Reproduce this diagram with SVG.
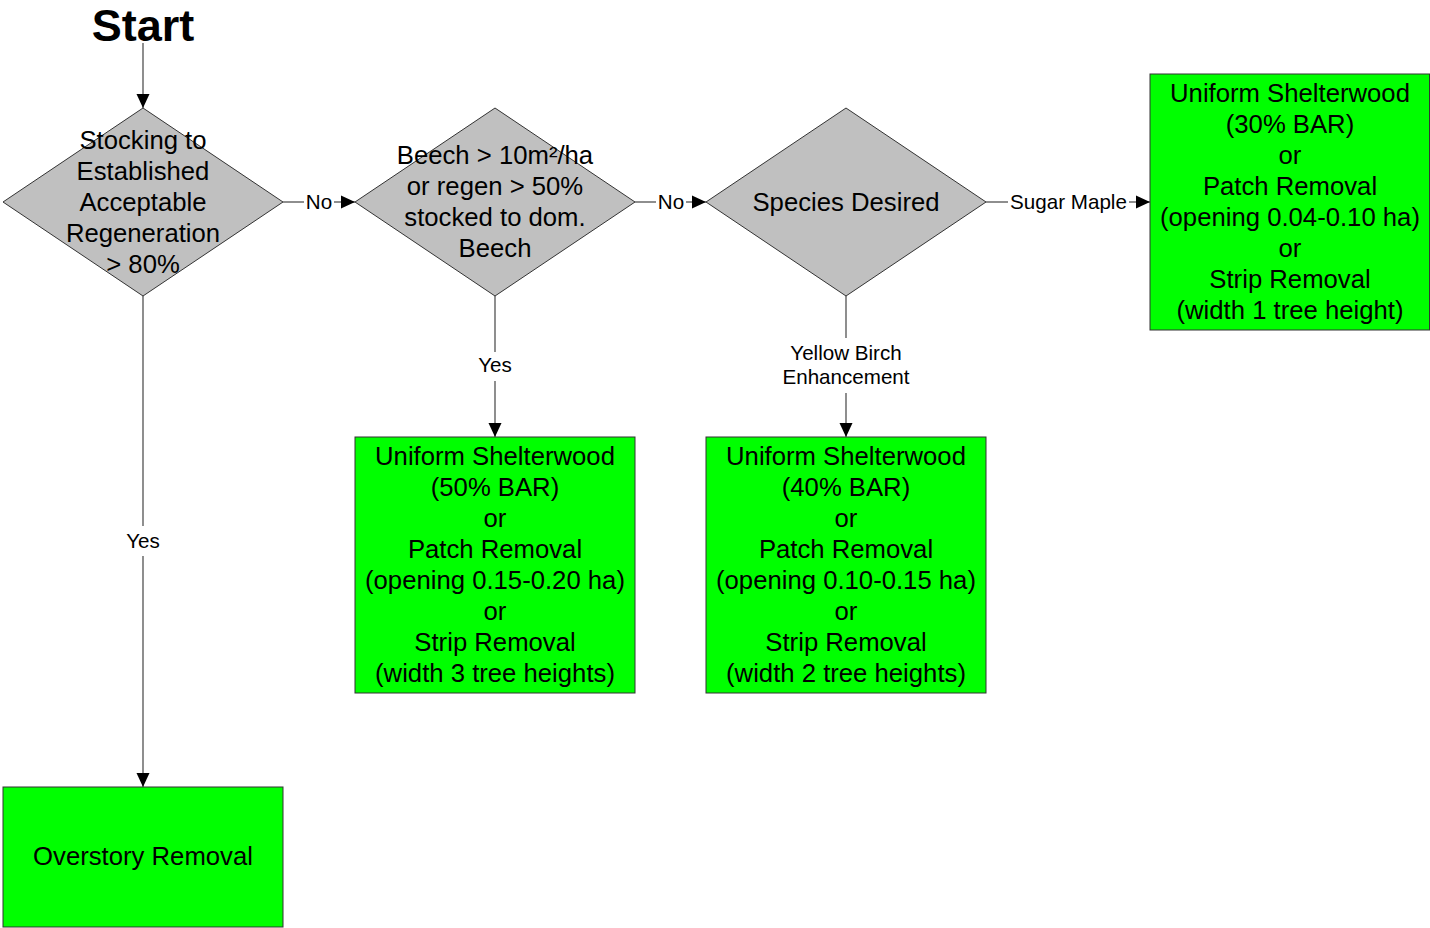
<svg xmlns="http://www.w3.org/2000/svg" width="1430" height="928" viewBox="0 0 1430 928">
<style>
.t{font-family:"Liberation Sans",Arial,sans-serif;font-size:25.7px;fill:#000;text-anchor:middle}
.l{font-family:"Liberation Sans",Arial,sans-serif;font-size:20.6px;fill:#000;text-anchor:middle}
.dia{fill:#c0c0c0;stroke:#333;stroke-width:1}
.box{fill:#00ff00;stroke:#333;stroke-width:1}
.c{stroke:#444;stroke-width:1.2;fill:none}
.a{marker-end:url(#arr)}
</style>
<defs>
<marker id="arr" markerUnits="userSpaceOnUse" markerWidth="14" markerHeight="14" viewBox="0 0 14 14" refX="14" refY="7" orient="auto">
<path d="M0,0.5 L14,7 L0,13.5 Z" fill="#000"/>
</marker>
</defs>
<rect width="1430" height="928" fill="#fff"/>
<g id="start">
<text x="143" y="40.5" style="font-family:'Liberation Sans',Arial,sans-serif;font-size:45px;font-weight:bold;text-anchor:middle">Start</text>
</g>
<g id="connectors">
<line class="c a" x1="143" y1="43" x2="143" y2="108"/>
<line class="c" x1="283" y1="202" x2="304" y2="202"/>
<text class="l" x="319" y="209">No</text>
<line class="c a" x1="334" y1="202" x2="355" y2="202"/>
<line class="c" x1="635" y1="202" x2="656" y2="202"/>
<text class="l" x="671" y="209">No</text>
<line class="c a" x1="686" y1="202" x2="706" y2="202"/>
<line class="c" x1="986" y1="202" x2="1008" y2="202"/>
<text class="l" x="1068.5" y="209">Sugar Maple</text>
<line class="c a" x1="1129" y1="202" x2="1150" y2="202"/>
<line class="c" x1="495" y1="296" x2="495" y2="352"/>
<text class="l" x="495" y="372">Yes</text>
<line class="c a" x1="495" y1="381" x2="495" y2="437"/>
<line class="c" x1="846" y1="296" x2="846" y2="338"/>
<text class="l" x="846" y="359.5">Yellow Birch</text>
<text class="l" x="846" y="384">Enhancement</text>
<line class="c a" x1="846" y1="393" x2="846" y2="437"/>
<line class="c" x1="143" y1="296" x2="143" y2="526"/>
<text class="l" x="143" y="547.5">Yes</text>
<line class="c a" x1="143" y1="556" x2="143" y2="787"/>
</g>
<g id="d1">
<polygon class="dia" points="143,108 283,202 143,296 3,202"/>
<text class="t" x="143" y="148.5">Stocking to</text>
<text class="t" x="143" y="179.5">Established</text>
<text class="t" x="143" y="210.5">Acceptable</text>
<text class="t" x="143" y="241.5">Regeneration</text>
<text class="t" x="143" y="272.5">&gt; 80%</text>
</g>
<g id="d2">
<polygon class="dia" points="495,108 635,202 495,296 355,202"/>
<text class="t" x="495" y="163.5">Beech &gt; 10m²/ha</text>
<text class="t" x="495" y="194.5">or regen &gt; 50%</text>
<text class="t" x="495" y="225.5">stocked to dom.</text>
<text class="t" x="495" y="256.5">Beech</text>
</g>
<g id="d3">
<polygon class="dia" points="846,108 986,202 846,296 706,202"/>
<text class="t" x="846" y="210.5">Species Desired</text>
</g>
<g id="boxSM">
<rect class="box" x="1150" y="74" width="279.5" height="256"/>
<text class="t" x="1290" y="101.5">Uniform Shelterwood</text>
<text class="t" x="1290" y="132.5">(30% BAR)</text>
<text class="t" x="1290" y="163.5">or</text>
<text class="t" x="1290" y="194.5">Patch Removal</text>
<text class="t" x="1290" y="225.5">(opening 0.04-0.10 ha)</text>
<text class="t" x="1290" y="256.5">or</text>
<text class="t" x="1290" y="287.5">Strip Removal</text>
<text class="t" x="1290" y="318.5">(width 1 tree height)</text>
</g>
<g id="boxBeech">
<rect class="box" x="355" y="437" width="280" height="256"/>
<text class="t" x="495" y="464.5">Uniform Shelterwood</text>
<text class="t" x="495" y="495.5">(50% BAR)</text>
<text class="t" x="495" y="526.5">or</text>
<text class="t" x="495" y="557.5">Patch Removal</text>
<text class="t" x="495" y="588.5">(opening 0.15-0.20 ha)</text>
<text class="t" x="495" y="619.5">or</text>
<text class="t" x="495" y="650.5">Strip Removal</text>
<text class="t" x="495" y="681.5">(width 3 tree heights)</text>
</g>
<g id="boxYB">
<rect class="box" x="706" y="437" width="280" height="256"/>
<text class="t" x="846" y="464.5">Uniform Shelterwood</text>
<text class="t" x="846" y="495.5">(40% BAR)</text>
<text class="t" x="846" y="526.5">or</text>
<text class="t" x="846" y="557.5">Patch Removal</text>
<text class="t" x="846" y="588.5">(opening 0.10-0.15 ha)</text>
<text class="t" x="846" y="619.5">or</text>
<text class="t" x="846" y="650.5">Strip Removal</text>
<text class="t" x="846" y="681.5">(width 2 tree heights)</text>
</g>
<g id="boxOR">
<rect class="box" x="3" y="787" width="280" height="140"/>
<text class="t" x="143" y="865">Overstory Removal</text>
</g>
</svg>
